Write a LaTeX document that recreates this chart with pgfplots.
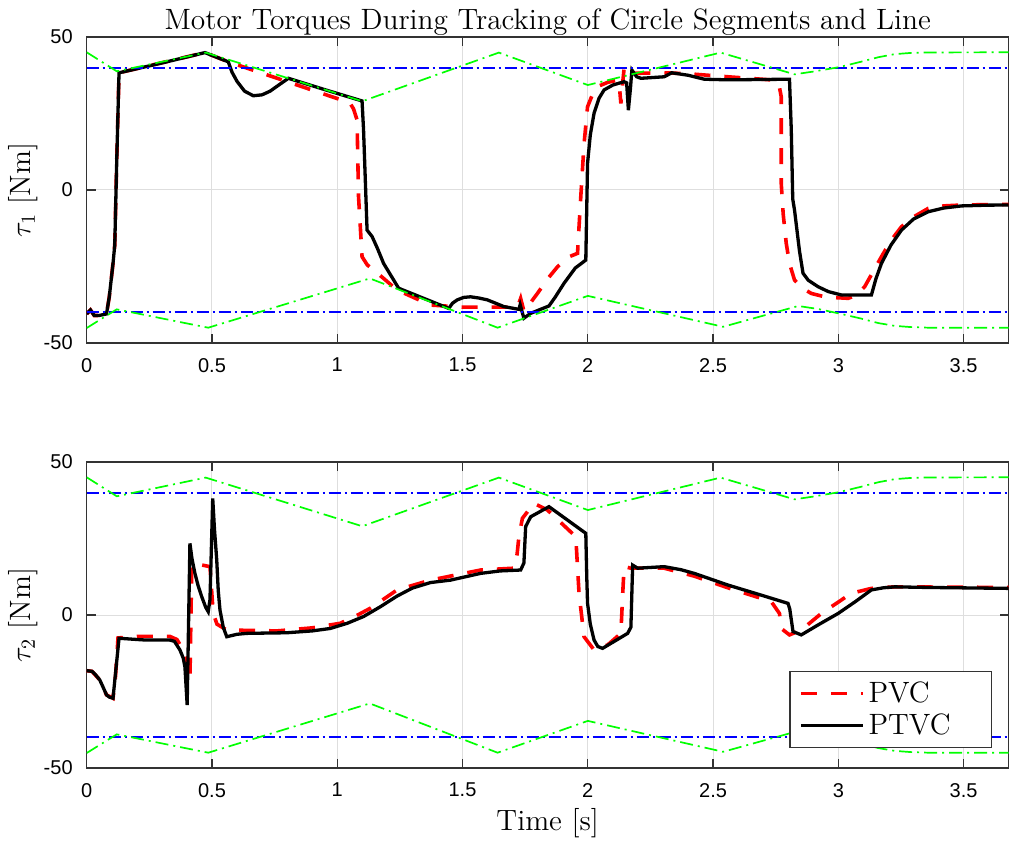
\documentclass[border=0pt]{standalone}
\usepackage{pgfplots}
\pgfplotsset{compat=1.18}
\usepackage{fontspec}
\newfontfamily\tickfont{Liberation Sans}

\pgfplotstableread{
x y
0 45
0.12 38.8
0.475 44.9
1.1 29
1.645 44.9
2.0 34.3
2.53 44.9
2.825 37.8
2.9 38.7
3.0 40.1
3.09 41.9
3.16 43.4
3.225 44.4
3.29 44.8
3.36 44.95
3.68 45
}\greenup

\pgfplotstableread{
x y
0 -45.1
0.12 -39
0.485 -45
1.13 -28.9
1.64 -45
2.0 -34.6
2.54 -44.7
2.84 -37.9
2.92 -38.9
3.0 -40.3
3.09 -42
3.16 -43.5
3.225 -44.4
3.29 -44.8
3.36 -45
3.68 -45
}\greenlo

\pgfplotsset{
  myaxis/.style={
    scale only axis, width=461pt, height=153pt,
    xmin=0, xmax=3.68, ymin=-50, ymax=50,
    xtick={0,0.5,1,1.5,2,2.5,3,3.5}, ytick={-50,0,50},
    xticklabels={0,0.5,1,1.5,2,2.5,3,3.5},
    grid=major, major grid style={draw=black!13, line width=0.5pt},
    axis line style={draw=black!80, line width=0.6pt},
    tick style={draw=black!80, line width=0.6pt},
    tick align=inside, major tick length=4.5pt,
    ticklabel style={font=\tickfont\fontsize{10}{11}\selectfont},
    /pgf/number format/assume math mode=true,
    xticklabel style={yshift=-4pt}, yticklabel style={xshift=-3.5pt},
    label style={font=\fontsize{14.7}{17}\selectfont},
    ylabel style={at={(axis description cs:-0.069,0.5)}, anchor=center},
    limblue/.style={blue, line width=1pt, dash pattern=on 6pt off 2pt on 1pt off 2pt, forget plot},
    limgreen/.style={green, line width=0.85pt, dash pattern=on 6.5pt off 2.5pt on 1pt off 2.5pt, forget plot},
    pvc/.style={red, line width=1.8pt, dash pattern=on 8pt off 7pt},
    ptvc/.style={black, line width=1.65pt},
  }
}

\begin{document}
\begin{tikzpicture}
\useasboundingbox (-43.35pt,-248.5pt) rectangle (461.65pt,171.5pt);

\begin{axis}[myaxis, at={(0,0)},
  title={Motor Torques During Tracking of Circle Segments and Line},
  title style={font=\fontsize{14.7}{17}\selectfont, at={(axis description cs:0.5,1)}, anchor=base, yshift=-2.1pt},
  ylabel={$\tau_1$ [Nm]}]
\addplot[pvc] coordinates {
(0,-40.5) (0.015,-39.2) (0.03,-41) (0.05,-41) (0.079,-40.5) (0.09,-35) (0.105,-24) (0.112,-18) (0.12,10) (0.129,38.3) (0.472,44.9) (0.565,41.9) (1.05,28.5) (1.065,26.5) (1.079,22.9) (1.085,-2.2) (1.099,-21.8) (1.12,-24.5) (1.145,-26.1) (1.239,-32.7) (1.372,-37.6) (1.505,-38.3) (1.712,-38.3) (1.725,-37) (1.732,-35.4) (1.74,-38) (1.745,-39.6) (1.77,-37) (1.799,-33.8) (1.84,-29) (1.879,-25.1) (1.92,-22) (1.959,-20.7) (1.965,-12) (1.972,-2.2) (1.985,15) (1.999,27.2) (2.02,31.5) (2.039,33.8) (2.08,35.2) (2.119,35.9) (2.127,33) (2.132,28.3) (2.138,34) (2.145,39.8) (2.165,38.1) (2.305,38.3) (2.4,38) (2.559,37) (2.745,35.9) (2.765,33.5) (2.772,30.5) (2.772,2.2) (2.78,-8) (2.792,-17.4) (2.805,-24) (2.825,-29.4) (2.855,-32) (2.892,-33.8) (2.95,-35) (3.039,-35.4) (3.07,-34.5) (3.105,-31.6) (3.14,-26.5) (3.172,-21.8) (3.21,-16.5) (3.252,-12) (3.3,-8.8) (3.359,-6) (3.42,-5.2) (3.492,-4.9) (3.68,-4.7)
};
\addplot[ptvc] coordinates {
(0,-40.5) (0.015,-39.2) (0.03,-41) (0.05,-41) (0.079,-40.5) (0.09,-35) (0.105,-24) (0.112,-18) (0.12,10) (0.129,38.3) (0.3,41.5) (0.472,44.9) (0.565,41.9) (0.58,38.5) (0.6,35.5) (0.63,32.3) (0.665,30.8) (0.7,31.1) (0.732,32.3) (0.77,34.5) (0.805,36.5) (0.95,32.8) (1.099,29.1) (1.105,19.6) (1.119,-13.1) (1.139,-15.2) (1.16,-19) (1.185,-24) (1.245,-32.1) (1.445,-38.7) (1.46,-37) (1.479,-35.9) (1.505,-35.1) (1.532,-34.9) (1.565,-35.3) (1.599,-35.9) (1.665,-38.1) (1.725,-39) (1.73,-37.5) (1.735,-39) (1.745,-41.9) (1.772,-40.3) (1.845,-37.9) (1.87,-35) (1.905,-30.5) (1.95,-25.5) (1.992,-22.9) (1.996,-5) (1.999,8.7) (2.01,18) (2.025,25.1) (2.045,30) (2.065,32.7) (2.1,34.3) (2.145,35.4) (2.155,35) (2.162,26.1) (2.17,33) (2.176,39.2) (2.195,37) (2.212,36.5) (2.305,37) (2.335,38.3) (2.4,37.5) (2.465,36.2) (2.559,36) (2.805,36.2) (2.812,20) (2.818,-3) (2.825,-6.5) (2.845,-20) (2.859,-27.2) (2.88,-29.5) (2.919,-31.6) (2.96,-33.2) (3.012,-34.3) (3.132,-34.3) (3.15,-29) (3.172,-24) (3.21,-18) (3.252,-13.1) (3.3,-9.5) (3.359,-7.1) (3.42,-5.9) (3.492,-5.2) (3.6,-4.95) (3.68,-4.9)
};
\addplot[limblue] coordinates {(0,40) (3.68,40)};
\addplot[limblue] coordinates {(0,-40) (3.68,-40)};
\addplot[limgreen] table[x=x,y=y] {\greenup};
\addplot[limgreen] table[x=x,y=y] {\greenlo};
\end{axis}

\begin{axis}[myaxis, at={(0,-212.5pt)},
  xlabel={Time [s]},
  xlabel style={at={(axis description cs:0.5,0)}, anchor=base, yshift=-31pt},
  ylabel={$\tau_2$ [Nm]},
  legend style={at={(axis description cs:0.982,0.066)}, anchor=south east,
    font=\fontsize{14.7}{16.3}\selectfont, draw=black!80, line width=0.6pt,
    inner xsep=4.5pt, inner ysep=3pt, row sep=0pt, cells={anchor=west}},
  legend image code/.code={\draw[#1] (0pt,0pt) -- (31pt,0pt);}]
\addplot[pvc] coordinates {
(0,-18.2) (0.021,-18.4) (0.052,-21.2) (0.079,-26.1) (0.105,-27.2) (0.115,-20) (0.125,-7.5) (0.2,-7) (0.332,-7) (0.36,-8) (0.385,-11.4) (0.4,-15) (0.412,-21.2) (0.419,14.7) (0.425,17) (0.45,16.5) (0.492,15.8) (0.505,0.5) (0.52,-3) (0.559,-4.9) (0.759,-5.2) (0.9,-4.2) (1.012,-2.7) (1.07,-0.5) (1.132,2.2) (1.239,8.2) (1.372,11.4) (1.572,14.7) (1.705,15.3) (1.718,20) (1.725,25.6) (1.739,31.6) (1.785,36.5) (1.839,34.3) (1.952,25.6) (1.965,7.1) (1.985,-7.1) (2.025,-11.4) (2.079,-9.8) (2.132,-6) (2.14,8) (2.145,15.8) (2.172,15.3) (2.305,15.3) (2.425,12.7) (2.559,8.9) (2.732,4.4) (2.765,0.5) (2.772,-4.4) (2.805,-6.5) (2.852,-4.9) (2.932,0.5) (3.052,7.1) (3.132,8.7) (3.225,9.2) (3.68,9)
};
\addlegendentry{PVC}
\addplot[ptvc] coordinates {
(0,-18.2) (0.021,-18.4) (0.035,-19.5) (0.052,-21.2) (0.065,-23.5) (0.079,-26.1) (0.09,-26.8) (0.105,-27.2) (0.129,-7.6) (0.2,-8) (0.239,-8.2) (0.332,-8.2) (0.35,-8.6) (0.372,-11.4) (0.385,-14) (0.392,-16.9) (0.401,-29.4) (0.412,23.4) (0.42,18.5) (0.432,13.6) (0.445,9.5) (0.459,6) (0.475,2.5) (0.485,1.1) (0.492,5) (0.503,38.1) (0.51,28) (0.519,18) (0.525,8) (0.532,1.6) (0.545,-4) (0.559,-7.1) (0.6,-6.3) (0.639,-6) (0.799,-5.8) (0.9,-5.2) (0.972,-4.4) (1.04,-2.7) (1.105,-0.5) (1.172,2.7) (1.239,6.2) (1.3,8.8) (1.372,10.6) (1.452,11.4) (1.572,13.6) (1.65,14.4) (1.732,14.7) (1.745,17) (1.752,28.9) (1.772,32.1) (1.845,35.4) (1.992,26.7) (1.996,12) (1.999,3.8) (2.01,-3) (2.025,-8.2) (2.04,-10.3) (2.059,-10.9) (2.159,-6) (2.172,-4) (2.179,16.3) (2.199,15.3) (2.305,15.8) (2.372,14.8) (2.425,13.6) (2.559,9.8) (2.692,6.5) (2.799,3.8) (2.806,2) (2.819,-5.4) (2.852,-6.5) (2.92,-3.2) (2.999,0.5) (3.07,4.5) (3.132,8.2) (3.18,8.9) (3.225,9.2) (3.359,9) (3.68,8.7)
};
\addlegendentry{PTVC\hspace*{14pt}}
\addplot[limblue] coordinates {(0,40) (3.68,40)};
\addplot[limblue] coordinates {(0,-40) (3.68,-40)};
\addplot[limgreen] table[x=x,y=y] {\greenup};
\addplot[limgreen] table[x=x,y=y] {\greenlo};
\end{axis}
\end{tikzpicture}
\end{document}
